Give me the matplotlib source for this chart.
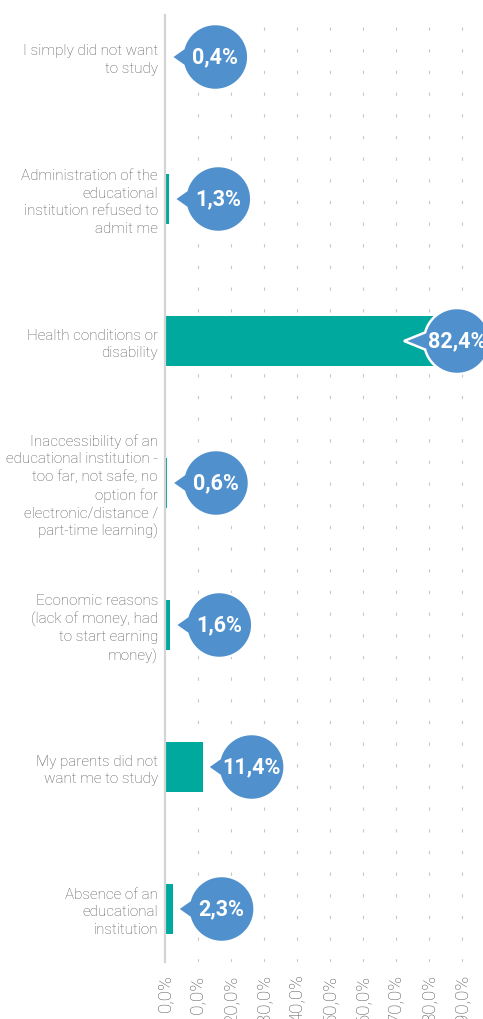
import matplotlib
matplotlib.use("Agg")
import matplotlib.pyplot as plt
import matplotlib.transforms as mtransforms
from matplotlib.patches import Polygon
import numpy as np

categories = [
    "I simply did not want\nto study",
    "Administration of the\neducational\ninstitution refused to\nadmit me",
    "Health conditions or\ndisability",
    "Inaccessibility of an\neducational institution -\ntoo far, not safe, no\noption for\nelectronic/distance /\npart-time learning)",
    "Economic reasons\n(lack of money, had\nto start earning\nmoney)",
    "My parents did not\nwant me to study",
    "Absence of an\neducational\ninstitution",
]
values = [0.4, 1.3, 82.4, 0.6, 1.6, 11.4, 2.3]
ticks = [0, 10, 20, 30, 40, 50, 60, 70, 80, 90]
tick_labels = [f"{t},0%" for t in ticks]

TEAL = "#00a99d"
BLUE = "#5091cd"
GREY_TXT = "#585858"
GRID = "#c8c8c8"

plt.rcParams["font.family"] = ["Roboto", "DejaVu Sans"]

W, H = 483, 1019
fig = plt.figure(figsize=(W / 100, H / 100), dpi=100)
# axes box in pixels: left 165, top 15, bottom 962
x0, top, bot = 165, 15, 962
px_per_pct = 3.3
xmax = (W - x0) / px_per_pct
ax = fig.add_axes([x0 / W, 1 - bot / H, (W - x0) / W, (bot - top) / H])
ax.set_xlim(0, xmax)
# category i centred at pixel 57 + 142*i
ax.set_ylim((bot - 57) / 142, (top - 57) / 142)

y = np.arange(len(categories))
ax.barh(y, values, height=50 / 142, color=TEAL, zorder=2)

for t in ticks[1:]:
    ax.axvline(t, color=GRID, lw=0.8, dashes=(3, 16.5), zorder=1)

for s in ["top", "right", "bottom"]:
    ax.spines[s].set_visible(False)
ax.spines["left"].set_color("#d4d4d4")
ax.spines["left"].set_linewidth(1.6)
ax.spines["left"].set_zorder(3)

ax.set_yticks(y)
ax.set_yticklabels(categories, fontsize=11, color=GREY_TXT,
                   fontweight="light", linespacing=1.33)
ax.tick_params(axis="y", length=0, pad=5)
ax.set_xticks(ticks)
ax.set_xticklabels(tick_labels, rotation=90, fontsize=13.5, color=GREY_TXT,
                   fontweight="light", va="top")
ax.tick_params(axis="x", length=0, pad=9)

# speech-bubble labels, shape drawn in pixels (1 px = 0.01 in) from the axes' left edge
r = 33
theta = np.linspace(np.radians(-165), np.radians(165), 120)
base = mtransforms.blended_transform_factory(ax.transAxes, ax.transData)
for yi, v in zip(y, values):
    end_px = v * px_per_pct
    cx = min(end_px + 49, W - x0 - 26)
    tip = cx - 53 if end_px + 49 > cx else end_px + 5
    pts = [(cx + r * np.cos(a), r * np.sin(a)) for a in theta]
    pts.append((tip, 0))
    pts = np.array(pts) / 100.0
    trans = fig.dpi_scale_trans + mtransforms.ScaledTranslation(0, yi, base)
    bub = Polygon(pts, closed=True, facecolor=BLUE, edgecolor="white",
                  lw=1.8, transform=trans, zorder=4, clip_on=False)
    ax.add_patch(bub)
    lab = f"{v:.1f}%".replace(".", ",")
    ax.text(cx / 100, 0, lab, transform=trans, ha="center", va="center",
            color="white", fontsize=15.5, fontweight="bold", zorder=5, clip_on=False)

fig.savefig("out.png", dpi=100)
